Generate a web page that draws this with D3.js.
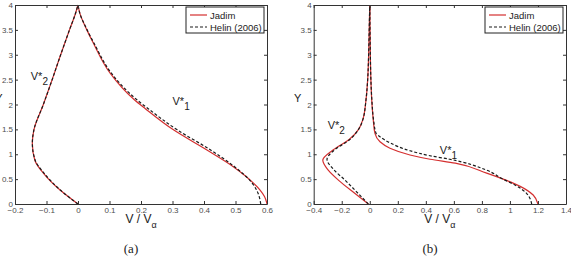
<!DOCTYPE html>
<html lang="en">
<head>
    <meta charset="UTF-8">
    <title>velocity-profiles</title>
    <script src="https://cdn.jsdelivr.net/npm/d3@7"></script>
    <style>
        body{
            margin: 0;
            background: #fff;
        }
        text{
            font-family: "Liberation Sans", Arial, sans-serif;
        }
        .axis text{
            font-size: 8px;
            fill: #4d4d4d;
        }
        .axis path, .axis line{
            stroke: #333;
        }
    </style>
</head>
<body>
<svg id="chart" width="571" height="259"></svg>
<script>

    // y levels and velocities
    // panel (a)
    var aJadimV2Y = [0, 0.28, 0.62, 0.88, 1.22, 1.49, 2.0, 2.5, 3.0, 3.5, 3.83, 4];
    var aJadimV2V = [0, -0.057, -0.110, -0.137, -0.145, -0.140, -0.110, -0.082, -0.055, -0.027, -0.008, 0];
    var aJadimV1Y = [4, 3.83, 3.5, 3.23, 2.63, 2.1, 1.92, 1.49, 1.09, 0.75, 0.42, 0.28, 0.15, 0.05, 0];
    var aJadimV1V = [0, 0.006, 0.028, 0.049, 0.102, 0.178, 0.213, 0.303, 0.408, 0.493, 0.557, 0.578, 0.592, 0.598, 0.600];

    var aHelinV2Y = [0, 0.28, 0.62, 0.88, 1.22, 1.49, 2.0, 2.5, 3.0, 3.5, 3.83, 4];
    var aHelinV2V = [0, -0.056, -0.108, -0.136, -0.145, -0.140, -0.110, -0.082, -0.055, -0.027, -0.008, 0];
    var aHelinV1Y = [4, 3.83, 3.5, 3.23, 2.63, 2.1, 1.92, 1.49, 1.09, 0.75, 0.42, 0.28, 0.08, 0];
    var aHelinV1V = [0, 0.006, 0.029, 0.051, 0.106, 0.186, 0.222, 0.315, 0.420, 0.497, 0.553, 0.567, 0.578, 0.580];

    // panel (b)
    var bJadimV2Y = [0, 0.21, 0.48, 0.68, 0.88, 1.09, 1.3, 1.5, 1.69, 2.09, 2.5, 3.0, 3.5, 4];
    var bJadimV2V = [-0.01, -0.105, -0.224, -0.296, -0.335, -0.26, -0.145, -0.08, -0.05, -0.027, -0.015, -0.008, -0.004, 0];
    var bJadimV1Y = [4, 3.0, 2.5, 2.09, 1.69, 1.42, 1.25, 1.12, 0.985, 0.90, 0.82, 0.62, 0.50, 0.36, 0.18, 0];
    var bJadimV1V = [0, 0.004, 0.008, 0.014, 0.025, 0.037, 0.073, 0.144, 0.287, 0.43, 0.61, 0.834, 0.952, 1.07, 1.166, 1.20];

    var bHelinV2Y = [0, 0.21, 0.48, 0.70, 0.90, 1.09, 1.3, 1.5, 1.69, 2.09, 2.5, 3.0, 3.5, 4];
    var bHelinV2V = [-0.01, -0.082, -0.177, -0.26, -0.305, -0.25, -0.14, -0.08, -0.05, -0.027, -0.015, -0.008, -0.004, 0];
    var bHelinV1Y = [4, 3.0, 2.5, 2.09, 1.69, 1.42, 1.35, 1.23, 1.07, 0.97, 0.90, 0.68, 0.50, 0.36, 0.21, 0.1, 0];
    var bHelinV1V = [0, 0.004, 0.008, 0.015, 0.027, 0.045, 0.073, 0.144, 0.287, 0.43, 0.57, 0.834, 0.95, 1.05, 1.12, 1.145, 1.155];

    // axes ticks
    var yTicks = [0, 0.5, 1, 1.5, 2, 2.5, 3, 3.5, 4];
    var yTickLabels = ["0", "0.5", "1", "1.5", "2", "2.5", "3", "3.5", "4"];
    var aXTicks = [-0.2, -0.1, 0, 0.1, 0.2, 0.3, 0.4, 0.5, 0.6];
    var aXTickLabels = ["\u22120.2", "\u22120.1", "0", "0.1", "0.2", "0.3", "0.4", "0.5", "0.6"];
    var bXTicks = [-0.4, -0.2, 0, 0.2, 0.4, 0.6, 0.8, 1, 1.2, 1.4];
    var bXTickLabels = ["\u22120.4", "\u22120.2", "0", "0.2", "0.4", "0.6", "0.8", "1", "1.2", "1.4"];

    var seriesNames = ["Jadim", "Helin (2006)"];

    // pair up and sort by height, each branch is single valued in y
    function zip(ys, vs) {
        return ys.map(function (y, i) { return {y: y, v: vs[i]}; })
            .sort(function (a, b) { return a.y - b.y; });
    }

    var svg = d3.select('#chart');

    var panels = [
        {
            left: 15, right: 267, xDomain: [-0.2, 0.6],
            xTicks: aXTicks, xTickLabels: aXTickLabels,
            jadim: [zip(aJadimV2Y, aJadimV2V), zip(aJadimV1Y, aJadimV1V)],
            helin: [zip(aHelinV2Y, aHelinV2V), zip(aHelinV1Y, aHelinV1V)],
            notes: [{v: -0.15, y: 2.5, sub: "2"}, {v: 0.3, y: 2.0, sub: "1"}],
            caption: "(a)", captionX: 131
        },
        {
            left: 313.7, right: 566, xDomain: [-0.4, 1.4],
            xTicks: bXTicks, xTickLabels: bXTickLabels,
            jadim: [zip(bJadimV2Y, bJadimV2V), zip(bJadimV1Y, bJadimV1V)],
            helin: [zip(bHelinV2Y, bHelinV2V), zip(bHelinV1Y, bHelinV1V)],
            notes: [{v: -0.3, y: 1.5, sub: "2"}, {v: 0.5, y: 1.0, sub: "1"}],
            caption: "(b)", captionX: 430
        }
    ];

    var plotTop = 5, plotBottom = 204;

    panels.forEach(function (p) {
        var x = d3.scaleLinear().domain(p.xDomain).range([p.left, p.right]);
        var y = d3.scaleLinear().domain([0, 4]).range([plotBottom, plotTop]);

        var g = svg.append('g');

        // curves
        var line = d3.line()
            .x(function (d) { return x(d.v); })
            .y(function (d) { return y(d.y); })
            .curve(d3.curveMonotoneY);

        p.jadim.forEach(function (s) {
            g.append('path').attr('d', line(s))
                .attr('fill', 'none').attr('stroke', '#d42f2f').attr('stroke-width', 1.2);
        });
        p.helin.forEach(function (s) {
            g.append('path').attr('d', line(s))
                .attr('fill', 'none').attr('stroke', '#1a1a1a').attr('stroke-width', 1.2)
                .attr('stroke-dasharray', '3,2');
        });

        // axes (inward ticks on all sides)
        g.append('g').attr('class', 'axis')
            .attr('transform', 'translate(0,' + plotBottom + ')')
            .call(d3.axisBottom(x).tickValues(p.xTicks)
                .tickFormat(function (d, i) { return p.xTickLabels[i]; })
                .tickSizeInner(-3).tickSizeOuter(0).tickPadding(3));
        g.append('g').attr('class', 'axis')
            .attr('transform', 'translate(0,' + plotTop + ')')
            .call(d3.axisTop(x).tickValues(p.xTicks).tickFormat('')
                .tickSizeInner(-3).tickSizeOuter(0));
        g.append('g').attr('class', 'axis')
            .attr('transform', 'translate(' + p.left + ',0)')
            .call(d3.axisLeft(y).tickValues(yTicks)
                .tickFormat(function (d, i) { return yTickLabels[i]; })
                .tickSizeInner(-3).tickSizeOuter(0).tickPadding(2));
        g.append('g').attr('class', 'axis')
            .attr('transform', 'translate(' + p.right + ',0)')
            .call(d3.axisRight(y).tickValues(yTicks).tickFormat('')
                .tickSizeInner(-3).tickSizeOuter(0));

        // V* annotations
        p.notes.forEach(function (n) {
            var t = g.append('text')
                .attr('x', x(n.v)).attr('y', y(n.y))
                .attr('font-size', 11).attr('fill', '#222');
            t.append('tspan').text('V*');
            t.append('tspan').attr('dy', 5).attr('font-size', 10).text(n.sub);
        });

        // axis labels
        var xl = g.append('text')
            .attr('x', (p.left + p.right) / 2).attr('y', 223)
            .attr('text-anchor', 'middle').attr('font-size', 12).attr('fill', '#222');
        xl.append('tspan').text('V / V');
        xl.append('tspan').attr('dy', 5).attr('font-size', 9).text('\u03b1');

        g.append('text')
            .attr('x', p.left - 16).attr('y', 102)
            .attr('text-anchor', 'middle').attr('font-size', 11).attr('fill', '#222')
            .text('Y');

        // caption
        g.append('text')
            .attr('x', p.captionX).attr('y', 253)
            .attr('text-anchor', 'middle')
            .style('font-family', '"Liberation Serif", "DejaVu Serif", serif')
            .attr('font-size', 13).attr('fill', '#222')
            .text(p.caption);

        // legend
        var lx = p.right - 81, ly = 7;
        var lg = g.append('g').attr('transform', 'translate(' + lx + ',' + ly + ')');
        lg.append('rect').attr('width', 78).attr('height', 26)
            .attr('fill', '#fff').attr('stroke', '#222').attr('stroke-width', 1);
        seriesNames.forEach(function (name, i) {
            var yy = 8 + i * 12;
            lg.append('line').attr('x1', 4).attr('x2', 21).attr('y1', yy).attr('y2', yy)
                .attr('stroke', i === 0 ? '#d42f2f' : '#1a1a1a').attr('stroke-width', 1.2)
                .attr('stroke-dasharray', i === 0 ? null : '3,2');
            lg.append('text').attr('x', 24).attr('y', yy + 3.5)
                .attr('font-size', 9.5).attr('fill', '#222').text(name);
        });
    });

</script>
</body>
</html>
